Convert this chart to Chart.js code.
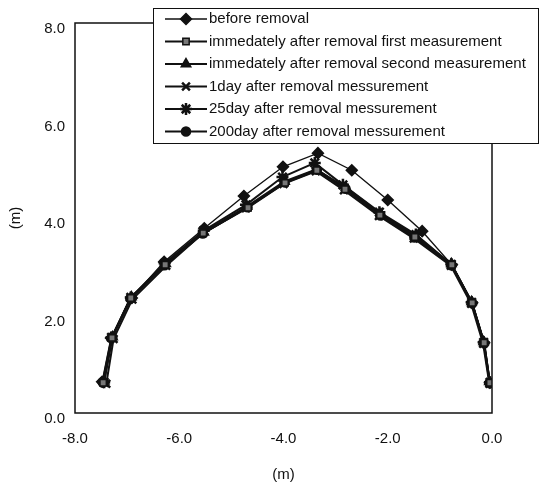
<!DOCTYPE html>
<html>
<head>
<meta charset="utf-8">
<script src="https://cdn.jsdelivr.net/npm/chart.js@4"></script>
<style>
  html, body { margin: 0; padding: 0; background: #fff; }
  #wrap { width: 544px; height: 484px; }
</style>
</head>
<body>
<div id="wrap"><canvas id="chart"></canvas></div>
<script>
const seriesLabels = [
  "before removal",
  "immedately after removal first measurement",
  "immedately after removal second measurement",
  "1day after removal messurement",
  "25day after removal messurement",
  "200day after removal messurement",
];

const xBefore = [-7.48, -7.31, -6.91, -6.29, -5.52, -4.76, -4.01, -3.34, -2.69, -2.00, -1.34, -0.77, -0.38, -0.15, -0.04];
const yBefore = [0.64, 1.54, 2.36, 3.10, 3.79, 4.45, 5.05, 5.33, 4.98, 4.37, 3.73, 3.04, 2.26, 1.44, 0.62];

const xFirst = [-7.46, -7.29, -6.93, -6.27, -5.54, -4.68, -3.97, -3.36, -2.82, -2.15, -1.48, -0.77, -0.38, -0.15, -0.04];
const yFirst = [0.62, 1.54, 2.36, 3.04, 3.69, 4.21, 4.72, 4.98, 4.59, 4.06, 3.61, 3.04, 2.26, 1.44, 0.62];

const xSecond = [-7.44, -7.28, -6.92, -6.26, -5.53, -4.70, -3.98, -3.37, -2.80, -2.13, -1.47, -0.78, -0.39, -0.16, -0.05];
const ySecond = [0.65, 1.56, 2.38, 3.06, 3.71, 4.24, 4.75, 5.00, 4.62, 4.08, 3.63, 3.06, 2.28, 1.46, 0.64];

const xDay1 = [-7.40, -7.26, -6.90, -6.25, -5.55, -4.72, -4.00, -3.38, -2.84, -2.17, -1.50, -0.79, -0.40, -0.17, -0.05];
const yDay1 = [0.60, 1.52, 2.33, 3.02, 3.68, 4.20, 4.70, 4.96, 4.57, 4.04, 3.58, 3.02, 2.24, 1.42, 0.60];

const xDay25 = [-7.44, -7.30, -6.93, -6.28, -5.53, -4.72, -4.02, -3.40, -2.86, -2.16, -1.46, -0.78, -0.39, -0.16, -0.04];
const yDay25 = [0.63, 1.55, 2.37, 3.07, 3.74, 4.27, 4.84, 5.13, 4.68, 4.12, 3.66, 3.05, 2.27, 1.45, 0.63];

const xDay200 = [-7.47, -7.30, -6.94, -6.28, -5.55, -4.69, -3.98, -3.36, -2.81, -2.14, -1.49, -0.78, -0.38, -0.15, -0.04];
const yDay200 = [0.63, 1.53, 2.35, 3.03, 3.68, 4.22, 4.73, 4.99, 4.60, 4.05, 3.60, 3.03, 2.25, 1.43, 0.61];

const xTicks = [-8, -6, -4, -2, 0];
const yTicks = [0, 2, 4, 6, 8];

const FONT = "'Liberation Sans', Arial, sans-serif";

function pts(xs, ys) {
  return xs.map((x, i) => ({ x, y: ys[i] }));
}

function makeSet(label, xs, ys, style, extra = {}) {
  return Object.assign({
    label,
    data: pts(xs, ys),
    showLine: true,
    borderColor: "#111",
    backgroundColor: "#111",
    pointBorderColor: "#111",
    pointBackgroundColor: "#111",
    borderWidth: 2,
    pointStyle: style,
    pointRadius: 5,
    pointBorderWidth: 1.5,
  }, extra);
}

const datasets = [
  makeSet(seriesLabels[1], xFirst, yFirst, "rect", { pointBackgroundColor: "#777", pointRadius: 4.5 }),
  makeSet(seriesLabels[2], xSecond, ySecond, "triangle", { pointRadius: 5.5 }),
  makeSet(seriesLabels[3], xDay1, yDay1, "crossRot", { pointBorderWidth: 2.5, pointRadius: 5.5 }),
  makeSet(seriesLabels[4], xDay25, yDay25, "star", { pointBorderWidth: 2.5, pointRadius: 6 }),
  makeSet(seriesLabels[5], xDay200, yDay200, "circle", { pointRadius: 4.5 }),
  makeSet(seriesLabels[0], xBefore, yBefore, "rectRot", { borderWidth: 1.4, pointRadius: 5.5 }),
];

// order of the legend follows seriesLabels
const legendOrder = [5, 0, 1, 2, 3, 4];

const boxPlugin = {
  id: "plotBox",
  afterDatasetsDraw(chart) {
    const { ctx, chartArea: a } = chart;
    ctx.save();
    ctx.strokeStyle = "#111";
    ctx.lineWidth = 1.5;
    ctx.strokeRect(a.left, a.top, a.right - a.left, a.bottom - a.top);
    ctx.restore();
  },
};

const legendPlugin = {
  id: "floatLegend",
  afterDraw(chart) {
    const ctx = chart.ctx;
    const left = 153, top = 8, right = 538, bottom = 143;
    ctx.save();
    ctx.fillStyle = "#fff";
    ctx.fillRect(left, top, right - left, bottom - top);
    ctx.strokeStyle = "#111";
    ctx.lineWidth = 1;
    ctx.strokeRect(left + 0.5, top + 0.5, right - left, bottom - top);
    ctx.font = "15px " + FONT;
    ctx.textBaseline = "middle";
    legendOrder.forEach((di, i) => {
      const ds = chart.data.datasets[di];
      const y = 19 + i * 22.5;
      ctx.strokeStyle = "#111";
      ctx.lineWidth = ds.borderWidth;
      ctx.beginPath();
      ctx.moveTo(165, y);
      ctx.lineTo(207, y);
      ctx.stroke();
      ctx.fillStyle = ds.pointBackgroundColor;
      ctx.strokeStyle = ds.pointBorderColor;
      ctx.lineWidth = ds.pointBorderWidth;
      Chart.helpers.drawPoint(ctx, { pointStyle: ds.pointStyle, radius: ds.pointRadius, borderWidth: ds.pointBorderWidth, rotation: 0 }, 186, y);
      ctx.fillStyle = "#111";
      ctx.fillText(ds.label, 209, y);
    });
    ctx.restore();
  },
};

new Chart(document.getElementById("chart"), {
  type: "scatter",
  data: { datasets },
  options: {
    responsive: true,
    maintainAspectRatio: false,
    animation: false,
    layout: { padding: { left: 0, top: 23, right: 52, bottom: 0 } },
    plugins: { legend: { display: false }, tooltip: { enabled: false } },
    scales: {
      x: {
        type: "linear",
        min: -8,
        max: 0,
        afterBuildTicks: (scale) => { scale.ticks = xTicks.map((v) => ({ value: v })); },
        afterFit: (scale) => { scale.height = 71; },
        grid: { display: false, drawTicks: false },
        border: { display: false },
        ticks: {
          padding: 17,
          color: "#111",
          font: { family: FONT, size: 15 },
          callback: (v) => v.toFixed(1),
        },
        title: {
          display: true,
          text: "(m)",
          color: "#111",
          font: { family: FONT, size: 15 },
          padding: { top: 4, bottom: 0 },
        },
      },
      y: {
        type: "linear",
        min: 0,
        max: 8,
        afterBuildTicks: (scale) => { scale.ticks = yTicks.map((v) => ({ value: v })); },
        afterFit: (scale) => { scale.width = 75; },
        grid: { display: false, drawTicks: false },
        border: { display: false },
        ticks: {
          padding: 10,
          labelOffset: 6,
          color: "#111",
          font: { family: FONT, size: 15 },
          callback: (v) => v.toFixed(1),
        },
        title: {
          display: true,
          text: "(m)",
          color: "#111",
          font: { family: FONT, size: 15 },
          padding: { top: 7, bottom: 0 },
        },
      },
    },
  },
  plugins: [boxPlugin, legendPlugin],
});
</script>
</body>
</html>
